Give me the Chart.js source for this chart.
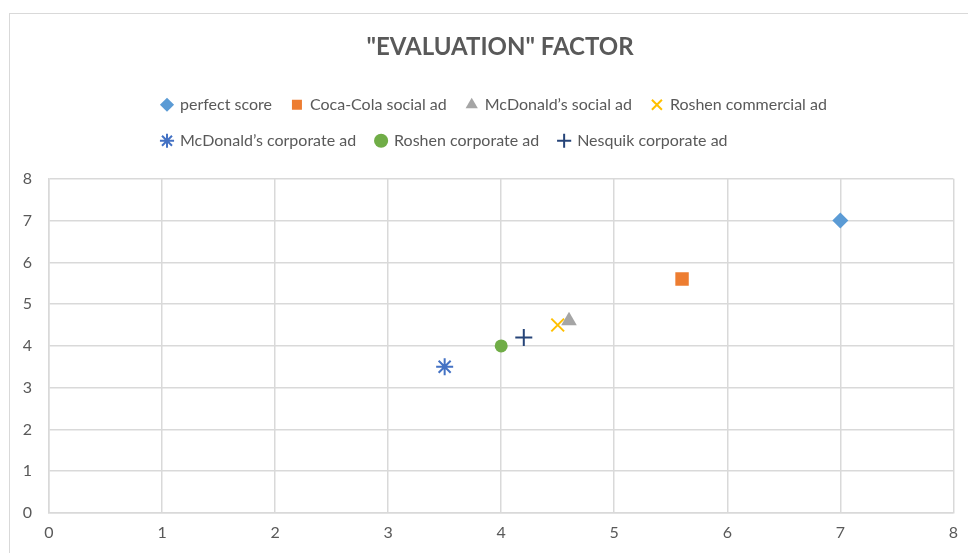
<!DOCTYPE html>
<html>
<head>
<meta charset="utf-8">
<script src="https://cdn.jsdelivr.net/npm/chart.js@4"></script>
<style>
  html, body { margin: 0; padding: 0; background: #fff; overflow: hidden; }
  #frame { position: absolute; left: 9px; top: 13px; width: 1000px; height: 600px; border: 1px solid #d9d9d9; }
  #wrap { position: absolute; left: 0; top: 0; width: 968px; height: 553px; }
</style>
</head>
<body>
<div id="frame"></div>
<div id="wrap"><canvas id="myChart" width="968" height="553"></canvas></div>
<script>
// series data
const seriesNames = ['perfect score', 'Coca-Cola social ad', 'McDonald\u2019s social ad', 'Roshen commercial ad',
  'McDonald\u2019s corporate ad', 'Roshen corporate ad', 'Nesquik corporate ad'];
const xValues = [7, 5.6, 4.6, 4.5, 3.5, 4.0, 4.2];
const yValues = [7, 5.6, 4.6, 4.5, 3.5, 4.0, 4.2];
const axisTicks = [0, 1, 2, 3, 4, 5, 6, 7, 8];

const colors = ['#5B9BD5', '#ED7D31', '#A5A5A5', '#FFC000', '#4472C4', '#70AD47', '#264478'];
const styles = ['rectRot', 'rect', 'triangle', 'crossRot', 'star', 'circle', 'cross'];
const radii = [8, 9.5, 9, 9, 8.5, 6.5, 8.5];

const font = 'Lato, "Open Sans", sans-serif';

const datasets = seriesNames.map(function (name, i) {
  const lined = styles[i] === 'crossRot' || styles[i] === 'star' || styles[i] === 'cross';
  return {
    label: name,
    data: [{ x: xValues[i], y: yValues[i] }],
    pointStyle: styles[i],
    pointRadius: radii[i],
    pointHoverRadius: radii[i],
    backgroundColor: colors[i],
    borderColor: colors[i],
    borderWidth: lined ? 2 : 0
  };
});

// legend wraps after four items, leaves room under it; title and legend nudged like the original
const layoutTweaks = {
  id: 'layoutTweaks',
  beforeLayout: function (chart) {
    const legend = chart.legend;
    if (legend && !legend._tweaked) {
      const fit = legend.fit;
      legend.fit = function () {
        fit.call(this);
        this.height += 20;
      };
      legend._tweaked = true;
    }
  },
  afterLayout: function (chart) {
    chart.titleBlock.left += 21;
    chart.titleBlock.right += 21;
    chart.legend.left += 142;
    chart.legend.right = chart.legend.left + 760;
  }
};

new Chart(document.getElementById('myChart'), {
  type: 'scatter',
  data: { datasets: datasets },
  plugins: [layoutTweaks],
  options: {
    responsive: false,
    animation: false,
    layout: { padding: { left: 0, right: 10, top: 13, bottom: 0 } },
    plugins: {
      title: {
        display: true,
        text: '"EVALUATION" FACTOR',
        color: '#595959',
        font: { family: font, size: 24, weight: 'bold' },
        padding: { top: 20, bottom: 15 }
      },
      legend: {
        display: true,
        position: 'top',
        align: 'start',
        labels: {
          usePointStyle: true,
          boxWidth: 10,
          boxHeight: 10,
          padding: 20,
          color: '#595959',
          font: { family: font, size: 16 }
        }
      },
      tooltip: { enabled: false }
    },
    scales: {
      x: {
        type: 'linear',
        min: 0,
        max: 8,
        afterBuildTicks: function (scale) { scale.ticks = axisTicks.map(function (v) { return { value: v }; }); },
        grid: { color: '#d9d9d9', lineWidth: 1.5, drawTicks: false },
        border: { color: '#d9d9d9', width: 1.5 },
        ticks: { color: '#595959', font: { family: font, size: 16 }, padding: 10 },
        afterFit: function (scale) { scale.height = 40; }
      },
      y: {
        type: 'linear',
        min: 0,
        max: 8,
        afterBuildTicks: function (scale) { scale.ticks = axisTicks.map(function (v) { return { value: v }; }); },
        grid: { color: '#d9d9d9', lineWidth: 1.5, drawTicks: false },
        border: { color: '#d9d9d9', width: 1.5 },
        ticks: { color: '#595959', font: { family: font, size: 16 }, padding: 17 },
        afterFit: function (scale) { scale.width = 49; }
      }
    }
  }
});
</script>
</body>
</html>
